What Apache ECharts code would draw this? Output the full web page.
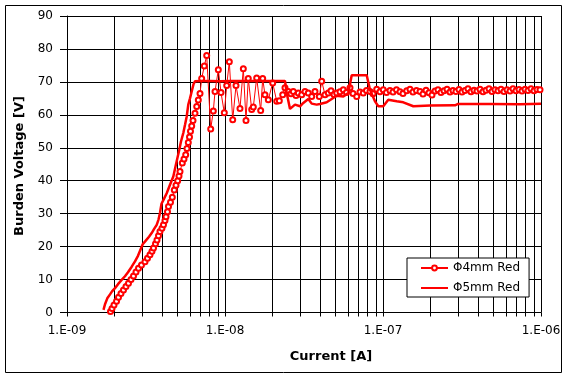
<!DOCTYPE html>
<html>
<head>
<meta charset="utf-8">
<script src="https://cdn.jsdelivr.net/npm/echarts@6/dist/echarts.min.js"></script>
<style>
html,body{margin:0;padding:0;background:#fff;}
#chart{width:568px;height:379px;}
</style>
</head>
<body>
<div id="chart"></div>
<script>
// ---- data ----
var seriesNames = ['\u03A64mm Red', '\u03A65mm Red'];

var current4 = [
1.885e-9,1.927e-9,1.984e-9,2.058e-9,2.118e-9,2.196e-9,2.278e-9,2.362e-9,2.450e-9,2.542e-9,
2.636e-9,2.733e-9,2.835e-9,2.961e-9,3.117e-9,3.232e-9,3.352e-9,3.451e-9,3.528e-9,3.632e-9,
3.712e-9,3.794e-9,3.876e-9,3.991e-9,4.080e-9,4.170e-9,4.232e-9,4.325e-9,4.389e-9,4.519e-9,
4.639e-9,4.776e-9,4.896e-9,5.018e-9,5.115e-9,5.190e-9,5.367e-9,5.502e-9,5.640e-9,5.747e-9,
5.857e-9,5.961e-9,6.048e-9,6.155e-9,6.273e-9,6.459e-9,6.622e-9,6.778e-9,6.948e-9,7.118e-9,
7.396e-9,7.659e-9,8.121e-9,8.434e-9,8.646e-9,9.071e-9,9.434e-9,9.899e-9,1.025e-8,1.065e-8,
1.119e-8,1.174e-8,1.244e-8,1.306e-8,1.358e-8,1.404e-8,1.476e-8,1.511e-8,1.587e-8,1.682e-8,
1.732e-8,1.791e-8,1.880e-8,2.004e-8,2.125e-8,2.207e-8,2.319e-8,2.397e-8,2.515e-8,2.616e-8,
2.706e-8,2.814e-8,2.911e-8,3.059e-8,3.209e-8,3.367e-8,3.538e-8,3.712e-8,3.952e-8,4.093e-8,
4.295e-8,4.506e-8,4.688e-8,4.896e-8,5.093e-8,5.344e-8,5.609e-8,5.875e-8,6.182e-8,6.459e-8,
6.817e-8,7.150e-8,7.503e-8,7.862e-8,8.275e-8,8.646e-8,9.124e-8,9.572e-8,1.004e-7,1.052e-7,
1.107e-7,1.157e-7,1.217e-7,1.281e-7,1.338e-7,1.413e-7,1.482e-7,1.548e-7,1.629e-7,1.715e-7,
1.791e-7,1.872e-7,1.955e-7,2.042e-7,2.134e-7,2.229e-7,2.328e-7,2.433e-7,2.542e-7,2.656e-7,
2.773e-7,2.897e-7,3.027e-7,3.162e-7,3.304e-7,3.451e-7,3.606e-7,3.767e-7,3.935e-7,4.111e-7,
4.295e-7,4.487e-7,4.688e-7,4.896e-7,5.115e-7,5.344e-7,5.584e-7,5.832e-7,6.094e-7,6.366e-7,
6.649e-7,6.948e-7,7.258e-7,7.581e-7,7.921e-7,8.275e-7,8.646e-7,9.031e-7,9.434e-7,9.856e-7
];
var voltage4 = [
0.3,1.2,2.3,3.4,4.6,5.8,6.8,7.9,8.9,10.0,
11.1,12.3,13.4,14.4,15.4,16.5,17.5,18.6,19.6,20.9,
22.0,23.3,24.6,25.6,26.6,27.9,29.1,30.6,32.2,33.5,
35.0,37.2,38.6,40.0,41.4,42.8,45.4,46.6,47.9,49.8,
51.6,53.3,55.0,56.6,58.3,60.5,62.5,64.5,66.5,71.0,
74.8,78.0,55.7,61.2,67.1,73.7,66.8,60.6,68.9,76.1,
58.5,68.9,61.9,74.0,58.3,71.0,61.6,62.4,71.2,61.3,
71.0,66.1,64.6,69.7,64.1,64.3,66.1,68.2,67.1,66.4,
67.1,65.9,66.6,66.1,67.1,66.6,65.6,67.1,65.6,70.2,
66.1,66.6,67.3,66.2,66.6,67.0,67.6,66.8,68.2,66.5,
65.6,66.9,66.6,67.4,67.1,66.4,67.8,67.0,67.6,66.8,
67.4,66.9,67.6,67.0,66.5,67.3,67.8,66.9,67.4,67.1,
66.3,67.5,66.7,66.0,67.2,67.6,66.8,67.3,67.8,66.9,
67.4,67.1,67.7,66.9,67.4,67.9,67.0,67.5,67.2,67.8,
67.0,67.5,67.9,67.1,67.6,67.3,67.8,67.1,67.6,67.2,
67.9,67.3,67.7,67.2,67.8,67.4,67.9,67.3,67.7,67.6
];

var current5 = [
1.702e-9,1.740e-9,1.799e-9,1.872e-9,1.927e-9,2.013e-9,2.103e-9,2.219e-9,2.328e-9,2.433e-9,
2.568e-9,2.694e-9,2.814e-9,3.014e-9,3.162e-9,3.304e-9,3.436e-9,3.553e-9,3.696e-9,3.794e-9,
3.876e-9,3.964e-9,4.080e-9,4.276e-9,4.487e-9,4.708e-9,4.896e-9,5.137e-9,5.266e-9,5.446e-9,
5.584e-9,5.723e-9,5.857e-9,6.004e-9,6.155e-9,6.319e-9,6.459e-9,6.948e-9,8.039e-9,9.298e-9,
1.076e-8,1.244e-8,1.439e-8,1.665e-8,1.927e-8,2.229e-8,2.397e-8,2.458e-8,2.579e-8,2.773e-8,
2.984e-8,3.130e-8,3.367e-8,3.538e-8,3.805e-8,3.991e-8,4.402e-8,4.735e-8,5.093e-8,5.609e-8,
6.032e-8,6.338e-8,7.885e-8,8.275e-8,8.898e-8,9.339e-8,1.004e-7,1.080e-7,1.221e-7,1.344e-7,
1.555e-7,1.984e-7,2.856e-7,2.984e-7,4.756e-7,7.364e-7,1.0e-6
];
var voltage5 = [
0.8,2.5,4.3,5.5,6.4,7.4,8.6,9.9,11.0,12.2,
13.9,15.5,17.2,20.7,21.9,23.0,24.1,25.3,26.6,28.2,
30.2,33.0,34.2,36.2,38.8,41.3,45.0,49.4,51.9,54.5,
57.0,59.5,63.1,65.0,67.1,69.3,70.2,70.3,70.3,70.2,
70.3,70.3,70.3,70.3,70.3,70.3,70.3,66.6,61.8,63.1,
62.6,63.6,64.8,63.4,63.1,63.3,63.8,64.8,65.8,65.6,
66.6,72.0,72.0,67.6,64.1,62.6,62.6,64.6,64.1,63.8,
62.6,62.8,62.9,63.3,63.3,63.2,63.4
];

var xMajorTicks = [1e-9, 1e-8, 1e-7, 1e-6];
var xTickLabels = ['1.E-09', '1.E-08', '1.E-07', '1.E-06'];
var yMin = 0, yMax = 90, yStep = 10;
var xTitle = 'Current [A]';
var yTitle = 'Burden Voltage [V]';

// ---- build chart ----
var xGridValues = [];
for (var d = 0; d < xMajorTicks.length; d++) {
  var base = xMajorTicks[d];
  if (d === xMajorTicks.length - 1) { xGridValues.push(base); break; }
  for (var k = 1; k <= 9; k++) xGridValues.push(parseFloat((k * base).toPrecision(3)));
}
function pairs(xs, ys) { var out = []; for (var i = 0; i < xs.length; i++) out.push([xs[i], ys[i]]); return out; }
function labelFor(v) {
  var best = 0, bd = Infinity;
  for (var i = 0; i < xMajorTicks.length; i++) {
    var dd = Math.abs(Math.log10(v) - Math.log10(xMajorTicks[i]));
    if (dd < bd) { bd = dd; best = i; }
  }
  return bd < 0.01 ? xTickLabels[best] : '';
}

var FONT = '"DejaVu Sans", sans-serif';
var chart = echarts.init(document.getElementById('chart'), null, {renderer: 'canvas'});
chart.setOption({
  animation: false,
  backgroundColor: '#fff',
  grid: {left: 67, right: 27, top: 16, bottom: 66.5, containLabel: false},
  xAxis: {
    type: 'log', logBase: 10, min: 1e-9, max: 1e-6,
    axisLine: {show: true, lineStyle: {color: '#000', width: 1}},
    axisTick: {show: true, inside: false, length: 4, customValues: xGridValues, lineStyle: {color: '#000'}},
    axisLabel: {customValues: xMajorTicks, formatter: labelFor, color: '#000', fontFamily: FONT, fontSize: 12, margin: 12},
    splitLine: {show: true, lineStyle: {color: '#000', width: 1}},
    minorTick: {show: false}, minorSplitLine: {show: false}
  },
  yAxis: {
    type: 'value', min: yMin, max: yMax, interval: yStep,
    axisLine: {show: true, lineStyle: {color: '#000', width: 1}},
    axisTick: {show: true, inside: false, length: 7, lineStyle: {color: '#000'}},
    axisLabel: {color: '#000', fontFamily: FONT, fontSize: 12, margin: 14},
    splitLine: {show: true, lineStyle: {color: '#000', width: 1}}
  },
  legend: {
    show: true, orient: 'vertical', left: 407, top: 258,
    padding: [4, 9, 3, 13], itemGap: 8, itemWidth: 27, itemHeight: 6,
    backgroundColor: '#fff', borderColor: '#000', borderWidth: 1, borderRadius: 0,
    textStyle: {color: '#000', fontFamily: FONT, fontSize: 12},
    data: [
      {name: seriesNames[0]},
      {name: seriesNames[1], itemStyle: {opacity: 0}}
    ]
  },
  series: [
    {
      name: seriesNames[0], type: 'line', data: pairs(current4, voltage4),
      symbol: 'emptyCircle', symbolSize: 5, showAllSymbol: true,
      lineStyle: {color: '#ff0000', width: 1},
      itemStyle: {color: '#ff0000', borderWidth: 1},
      z: 2
    },
    {
      name: seriesNames[1], type: 'line', data: pairs(current5, voltage5),
      symbol: 'none', showSymbol: false,
      lineStyle: {color: '#ff0000', width: 2.5},
      itemStyle: {color: '#ff0000'},
      z: 3
    }
  ],
  graphic: [
    {type: 'rect', shape: {x: 5.5, y: 5.5, width: 556, height: 367}, style: {fill: 'none', stroke: '#000', lineWidth: 1}, silent: true, z: -1},
    {type: 'text', x: 331, y: 357, style: {text: xTitle, font: 'bold 13px "DejaVu Sans", sans-serif', fill: '#000', align: 'center', verticalAlign: 'middle'}},
    {type: 'text', x: 20, y: 166, rotation: Math.PI / 2, style: {text: yTitle, font: 'bold 13px "DejaVu Sans", sans-serif', fill: '#000', align: 'center', verticalAlign: 'middle'}}
  ]
});
</script>
</body>
</html>
